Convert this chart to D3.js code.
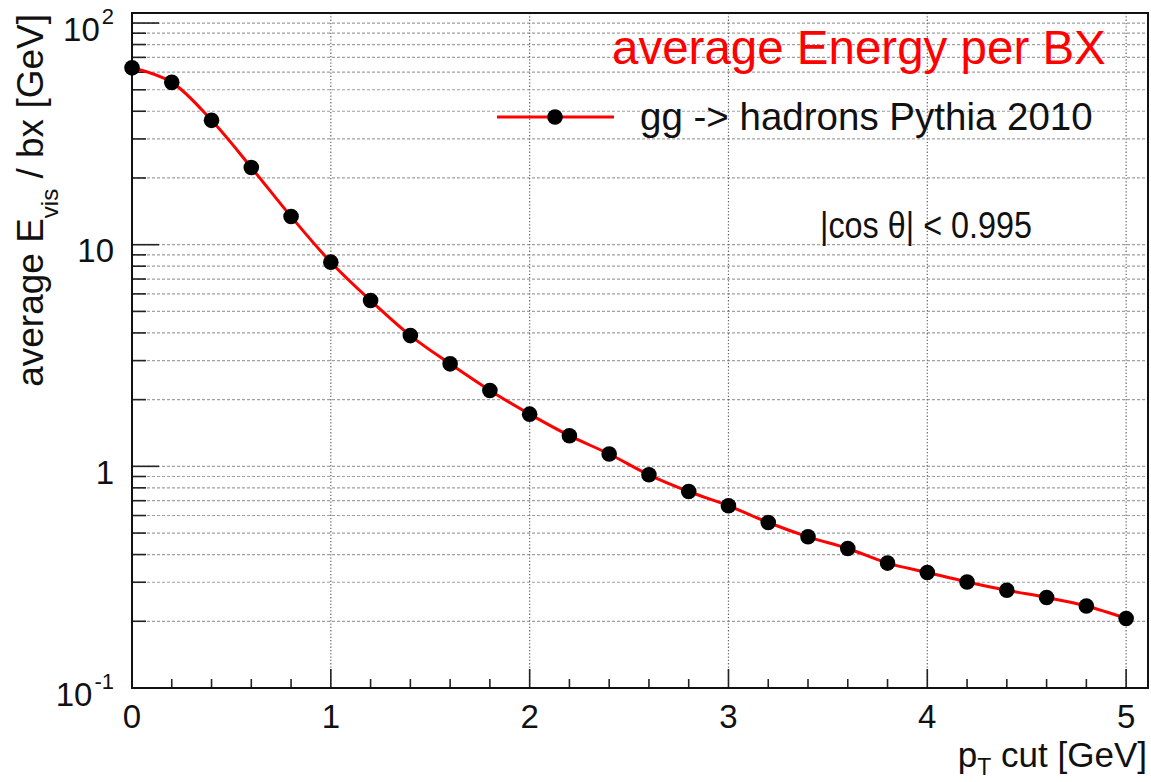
<!DOCTYPE html>
<html>
<head>
<meta charset="utf-8">
<script src="https://cdn.jsdelivr.net/npm/d3@7"></script>
<style>
  html, body { margin: 0; padding: 0; background: #fff; }
  svg { display: block; font-family: "Liberation Sans", Arial, Helvetica, sans-serif; }
</style>
</head>
<body>
<svg id="chart" width="1151" height="782"></svg>
<script>
// ---- data ----
const ptCut = [0.0, 0.2, 0.4, 0.6, 0.8, 1.0, 1.2, 1.4, 1.6, 1.8, 2.0, 2.2, 2.4,
               2.6, 2.8, 3.0, 3.2, 3.4, 3.6, 3.8, 4.0, 4.2, 4.4, 4.6, 4.8, 5.0];
const energyPerBX = [62.8, 54.0, 36.4, 22.3, 13.4, 8.34, 5.60, 3.89, 2.90, 2.20, 1.72, 1.375, 1.137,
                     0.916, 0.770, 0.664, 0.558, 0.481, 0.426, 0.366, 0.332, 0.301, 0.276, 0.256, 0.2345, 0.206];
const xTickValues = [0, 1, 2, 3, 4, 5];
const xTickLabels = ["0", "1", "2", "3", "4", "5"];
const yDecades = [0.1, 1, 10, 100];
const yDecadeLabels = [["10", "-1"], ["1", null], ["10", null], ["10", "2"]];
const seriesName = "gg -> hadrons Pythia 2010";
const titleText = "average Energy per BX";
const cutText = "|cos θ| < 0.995";

// ---- layout ----
const svg = d3.select("#chart");
const L = 132, R = 1148, T = 13, B = 688;
const x = d3.scaleLinear().domain([0, 5.11]).range([L, R]);
const y = d3.scaleLog().domain([0.1, 111]).range([B, T]);

// grid lines
const yGrid = y.ticks().filter(v => v > 0.1 * 1.0001);
svg.append("g").selectAll("line").data(yGrid).join("line")
  .attr("x1", L).attr("x2", R)
  .attr("y1", d => y(d)).attr("y2", d => y(d))
  .attr("stroke", "#a0a0a0").attr("stroke-width", 1.2)
  .attr("stroke-dasharray", "3,2");
svg.append("g").selectAll("line").data(xTickValues.filter(v => v > 0)).join("line")
  .attr("x1", d => x(d)).attr("x2", d => x(d))
  .attr("y1", T).attr("y2", B)
  .attr("stroke", "#666").attr("stroke-width", 1.2)
  .attr("stroke-dasharray", "1.3,2");

// ticks on x (upward)
const xMinor = x.ticks(25);
svg.append("g").selectAll("line").data(xMinor).join("line")
  .attr("x1", d => x(d)).attr("x2", d => x(d))
  .attr("y1", B).attr("y2", d => B - (Math.abs(d - Math.round(d)) < 1e-6 ? 19 : 9))
  .attr("stroke", "#222").attr("stroke-width", 1.6);

// ticks on y (rightward)
const yAll = y.ticks();
svg.append("g").selectAll("line").data(yAll).join("line")
  .attr("x1", L).attr("x2", d => {
    const lg = Math.log10(d);
    return L + (Math.abs(lg - Math.round(lg)) < 1e-6 ? 27 : 14);
  })
  .attr("y1", d => y(d)).attr("y2", d => y(d))
  .attr("stroke", "#222").attr("stroke-width", 1.6);

// frame
svg.append("rect").attr("x", L).attr("y", T).attr("width", R - L).attr("height", B - T)
  .attr("fill", "none").attr("stroke", "#111").attr("stroke-width", 2);

// x tick labels
svg.append("g").selectAll("text").data(xTickValues).join("text")
  .attr("x", d => x(d)).attr("y", 728)
  .attr("text-anchor", "middle").attr("font-size", 33).attr("fill", "#111")
  .text((d, i) => xTickLabels[i]);

// y tick labels
const yl = svg.append("g").selectAll("text").data(yDecades).join("text")
  .attr("x", 114).attr("y", d => y(d) + 17.5)
  .attr("text-anchor", "end").attr("font-size", 33).attr("fill", "#111");
yl.each(function(d, i) {
  const t = d3.select(this);
  const [base, exp] = yDecadeLabels[i];
  t.append("tspan").text(base);
  if (exp) {
    t.append("tspan").attr("font-size", 22).attr("dy", -17).attr("dx", 2).text(exp);
  }
});

// smooth curve
const line = d3.line()
  .x((d, i) => x(ptCut[i]))
  .y(d => y(d))
  .curve(d3.curveCatmullRom.alpha(0.5));
svg.append("path").datum(energyPerBX)
  .attr("d", line)
  .attr("fill", "none").attr("stroke", "#ff0000").attr("stroke-width", 3);

// markers
svg.append("g").selectAll("circle").data(energyPerBX).join("circle")
  .attr("cx", (d, i) => x(ptCut[i])).attr("cy", d => y(d))
  .attr("r", 7.8).attr("fill", "#000");

// title (red)
svg.append("text").attr("x", 612).attr("y", 64)
  .attr("font-size", 47.5).attr("fill", "#ff0000")
  .text(titleText);

// legend
svg.append("line").attr("x1", 497).attr("x2", 614).attr("y1", 117).attr("y2", 117)
  .attr("stroke", "#ff0000").attr("stroke-width", 3);
svg.append("circle").attr("cx", 555).attr("cy", 117).attr("r", 7.8).attr("fill", "#000");
svg.append("text").attr("x", 640).attr("y", 130)
  .attr("font-size", 38.5).attr("fill", "#111")
  .text(seriesName);

// cut annotation
svg.append("text").attr("x", 820).attr("y", 238)
  .attr("font-size", 36).attr("fill", "#111")
  .attr("textLength", 212).attr("lengthAdjust", "spacingAndGlyphs")
  .text(cutText);

// x axis title
const xt = svg.append("text").attr("x", 1147).attr("y", 767)
  .attr("text-anchor", "end").attr("font-size", 35).attr("fill", "#111");
xt.append("tspan").text("p");
xt.append("tspan").attr("font-size", 23).attr("dy", 8).text("T");
xt.append("tspan").attr("dy", -8).text(" cut [GeV]");

// y axis title
const yt = svg.append("text")
  .attr("transform", "translate(43,14) rotate(-90)")
  .attr("text-anchor", "end").attr("font-size", 37).attr("fill", "#111");
yt.append("tspan").text("average E");
yt.append("tspan").attr("font-size", 24).attr("dy", 15).text("vis");
yt.append("tspan").attr("dy", -15).text(" / bx [GeV]");
</script>
</body>
</html>
